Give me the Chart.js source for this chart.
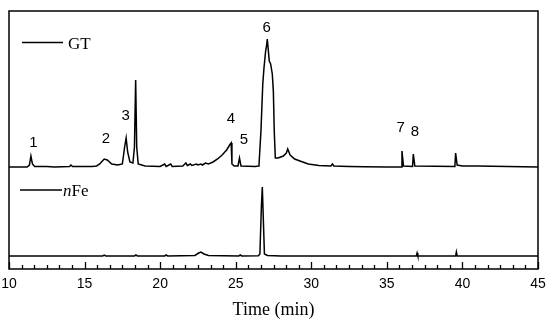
<!DOCTYPE html>
<html>
<head>
<meta charset="utf-8">
<script src="https://cdn.jsdelivr.net/npm/chart.js@4.4.0/dist/chart.umd.min.js"></script>
<style>
  html, body { margin: 0; padding: 0; background: #fff; }
  #wrap { width: 550px; height: 323px; }
</style>
</head>
<body>
<div id="wrap"><canvas id="myChart" width="550" height="323"></canvas></div>
<script>
// GT trace (time in min, signal above its baseline)
const gtTime = [10, 11.2, 11.35, 11.45, 11.55, 11.7, 12.5, 13.0, 14.0, 14.1, 14.2, 15.5, 15.8, 16.0, 16.3, 16.5, 16.8, 17.2, 17.5,
  17.65, 17.75, 17.85, 18.0, 18.2, 18.3, 18.38, 18.45, 18.55, 19.0, 20.0, 20.3, 20.4, 20.7, 20.8, 21.5, 21.7, 21.8, 22.0, 22.1,
  22.4, 22.5, 22.7, 22.8, 23.0, 23.2, 23.5, 23.8, 24.1, 24.4, 24.6, 24.7, 24.75, 24.9, 25.15, 25.25, 25.35, 26.3, 26.5, 26.54,
  26.67, 26.79, 26.87, 26.98, 27.04, 27.09, 27.15, 27.22, 27.31, 27.42, 27.49, 27.55, 27.62, 27.8, 28.15, 28.35, 28.44, 28.6,
  28.9, 29.25, 29.8, 30.5, 31.3, 31.4, 31.5, 32.5, 33.5, 35.0, 35.95, 36.0, 36.1, 36.7, 36.75, 36.85, 39.5, 39.55, 39.65, 40.0,
  41.0, 45.0];
const gtSignal = [0, 0, 2, 11, 3, 0.5, 0.5, 0, 0.5, 2, 0.5, 0.5, 1, 3, 8, 7, 3, 2, 3,
  20, 29, 15, 5, 4, 20, 87, 20, 3, 1, 0.5, 3, 0.5, 3, 0.5, 1, 4, 1.5, 3, 1.5,
  3, 2, 3, 2, 4, 3, 5, 8, 12, 17, 22, 24, 3, 1, 1, 9, 1, 0.5, 1, 2,
  36, 83, 99, 116, 121, 128, 118, 106, 103, 93, 76, 36, 9, 9, 11, 14, 18, 12,
  8, 6, 3, 1.5, 1, 3, 1, 0.5, 0.2, 0, 0, 16, 1, 0.5, 13, 1, 0.5, 14, 2, 1,
  1, 0];

// nFe trace
const nfeTime = [10, 16.2, 16.3, 16.4, 18.3, 18.4, 18.5, 20.3, 20.4, 20.5, 22.3, 22.55, 22.7, 22.9, 23.2, 25.2, 25.3, 25.4,
  26.5, 26.6, 26.7, 26.76, 26.82, 26.9, 27.1, 28.0, 36.95, 37.0, 37.05, 39.55, 39.6, 39.65, 45.0];
const nfeSignal = [0, 0, 0.8, 0, 0, 1, 0, 0, 1, 0, 0.5, 3, 4, 2, 0.5, 0, 1, 0,
  0.3, 2, 50, 69, 40, 2, 0.5, 0, 0, 3, 0, 0, 4, 0, 0];

// vertical offsets of the two traces
const GT_OFFSET = 102;
const NFE_OFFSET = 13;

// x axis
const xMin = 10, xMax = 45, majorStep = 5, minorStep = 5 / 6;

// peak numbers
const peakLabels = ["1", "2", "3", "4", "5", "6", "7", "8"];
const peakLabelTime = [11.61, 16.42, 17.72, 24.69, 25.54, 27.05, 35.92, 36.86];
const peakLabelLevel = [126, 130, 153, 150, 129.5, 241.5, 141.5, 137.5];

function toPoints(xs, ys, off) {
  return xs.map((x, i) => ({ x: x, y: ys[i] + off }));
}

const decorPlugin = {
  id: "decor",
  afterDraw(chart) {
    const ctx = chart.ctx;
    const a = chart.chartArea;
    const xs = chart.scales.x;
    const ys = chart.scales.y;
    ctx.save();
    ctx.strokeStyle = "#000";
    ctx.fillStyle = "#000";

    // frame
    ctx.lineWidth = 1.5;
    ctx.strokeRect(a.left, a.top, a.right - a.left, a.bottom - a.top);

    // inward ticks
    ctx.lineWidth = 1.3;
    const nMinor = Math.round((xMax - xMin) / minorStep);
    for (let i = 0; i <= nMinor; i++) {
      const v = xMin + i * minorStep;
      const major = i % 6 === 0;
      const px = Math.round(xs.getPixelForValue(v)) + 0.5;
      ctx.beginPath();
      ctx.moveTo(px, a.bottom);
      ctx.lineTo(px, a.bottom - (major ? 7 : 4));
      ctx.stroke();
    }

    // legend entries
    ctx.lineWidth = 1.6;
    ctx.beginPath();
    ctx.moveTo(22, 42.5); ctx.lineTo(63, 42.5);
    ctx.moveTo(20, 190); ctx.lineTo(62, 190);
    ctx.stroke();
    ctx.textBaseline = "alphabetic";
    ctx.textAlign = "left";
    ctx.font = '17px "Liberation Serif"';
    ctx.fillText("GT", 68, 48.5);
    ctx.font = 'italic 17px "Liberation Serif"';
    ctx.fillText("n", 63, 196);
    const nw = ctx.measureText("n").width;
    ctx.font = '17px "Liberation Serif"';
    ctx.fillText("Fe", 63 + nw, 196);

    // peak numbers
    ctx.font = '15px "Liberation Sans"';
    ctx.textAlign = "center";
    ctx.textBaseline = "middle";
    peakLabels.forEach((t, i) => {
      ctx.fillText(t, xs.getPixelForValue(peakLabelTime[i]), ys.getPixelForValue(peakLabelLevel[i]));
    });
    ctx.restore();
  }
};

const ctx = document.getElementById("myChart").getContext("2d");
new Chart(ctx, {
  type: "line",
  data: {
    datasets: [
      {
        label: "GT",
        data: toPoints(gtTime, gtSignal, GT_OFFSET),
        borderColor: "#000",
        borderWidth: 1.5,
        pointRadius: 0,
        tension: 0,
      },
      {
        label: "nFe",
        data: toPoints(nfeTime, nfeSignal, NFE_OFFSET),
        borderColor: "#000",
        borderWidth: 1.5,
        pointRadius: 0,
        tension: 0,
      }
    ]
  },
  options: {
    responsive: false,
    animation: false,
    layout: { padding: { left: 9, right: 12, top: 11, bottom: 0 } },
    plugins: { legend: { display: false }, tooltip: { enabled: false } },
    scales: {
      x: {
        type: "linear",
        min: xMin,
        max: xMax,
        grid: { display: false, drawTicks: false },
        border: { display: false },
        ticks: {
          stepSize: majorStep,
          padding: 7,
          color: "#000",
          font: { family: "Liberation Sans", size: 14 },
          maxRotation: 0,
        },
        title: {
          display: true,
          text: "Time (min)",
          color: "#000",
          font: { family: "Liberation Serif", size: 18 },
          padding: { top: 0, bottom: 2 },
        },
        afterFit(scale) {
          scale.paddingLeft = 0;
          scale.paddingRight = 0;
          scale.height = 54;
        }
      },
      y: {
        display: false,
        min: 0,
        max: 258,
      }
    }
  },
  plugins: [decorPlugin]
});
</script>
</body>
</html>
